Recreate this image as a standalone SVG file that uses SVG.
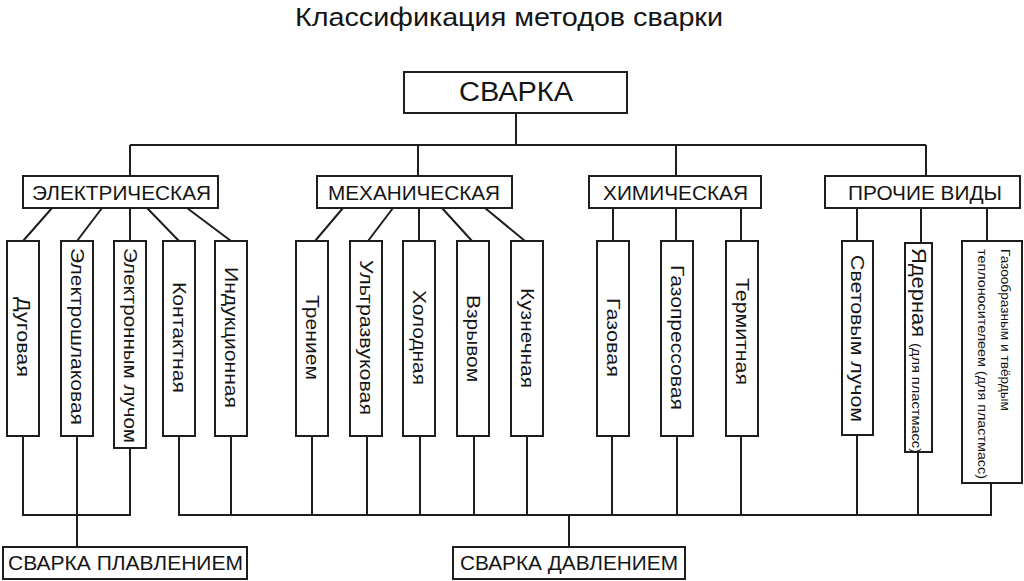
<svg xmlns="http://www.w3.org/2000/svg" width="1024" height="581" viewBox="0 0 1024 581">
<style>
  .bg{fill:#ffffff}
  .box{fill:#ffffff;stroke:#1e1e1e;stroke-width:2}
  .ln{fill:none;stroke:#1e1e1e;stroke-width:2}
  text{font-family:"Liberation Sans",Arial,sans-serif;fill:#151515}
  .title{font-size:26px}
  .root{font-size:27px}
  .cat{font-size:20px}
  .leaf{font-size:19px}
  .big{font-size:20px}
  .small{font-size:13px}
  .tiny{font-size:13px}
  .bottom{font-size:21px}
</style>
<rect class="bg" x="0" y="0" width="1024" height="581"/>
<text class="title" x="509" y="26" text-anchor="middle" textLength="428" lengthAdjust="spacingAndGlyphs">Классификация методов сварки</text>

<g id="connectors">
  <path class="ln" d="M516,113 V145 M130,145 H926 M130,145 V176 M418,145 V176 M676,145 V176 M926,145 V176"/>
  <path class="ln" d="M52,208 L23,241 M102,208 L77,241 M130,208 V241 M147,208 L179,241 M187,208 L231,241"/>
  <path class="ln" d="M343,208 L315,241 M393,208 L368,241 M419,208 V241 M442,208 L472,241 M485,208 L525,241"/>
  <path class="ln" d="M613,208 V241 M676,208 V241 M741,208 V241"/>
  <path class="ln" d="M857,208 V241 M921,208 V243 M987,208 V241"/>
  <path class="ln" d="M23,436 V515 H130 V448 M77,436 V547"/>
  <path class="ln" d="M179,436 V515 H991 V483 M231,436 V515 M312,436 V515 M367,436 V515 M420,436 V515 M474,436 V515 M527,436 V515 M612,436 V515 M677,436 V515 M741,436 V515 M857,435 V515 M918,452 V515 M569,515 V547"/>
</g>

<g id="n-svarka">
  <rect class="box" x="404" y="72" width="223" height="41"/>
  <text class="root" x="516" y="101" text-anchor="middle" textLength="114" lengthAdjust="spacingAndGlyphs">СВАРКА</text>
</g>

<g id="n-electric">
  <rect class="box" x="23" y="176" width="195" height="32"/>
  <text class="cat" x="121.5" y="200" text-anchor="middle" textLength="179" lengthAdjust="spacingAndGlyphs">ЭЛЕКТРИЧЕСКАЯ</text>
</g>
<g id="n-mech">
  <rect class="box" x="317" y="176" width="195" height="32"/>
  <text class="cat" x="414" y="200" text-anchor="middle" textLength="172" lengthAdjust="spacingAndGlyphs">МЕХАНИЧЕСКАЯ</text>
</g>
<g id="n-chem">
  <rect class="box" x="589" y="176" width="172" height="32"/>
  <text class="cat" x="675.5" y="200" text-anchor="middle" textLength="145" lengthAdjust="spacingAndGlyphs">ХИМИЧЕСКАЯ</text>
</g>
<g id="n-other">
  <rect class="box" x="825" y="176" width="195" height="32"/>
  <text class="cat" x="925" y="200" text-anchor="middle" textLength="154" lengthAdjust="spacingAndGlyphs">ПРОЧИЕ ВИДЫ</text>
</g>

<g id="n-dugovaya">
  <rect class="box" x="7" y="241" width="32" height="195"/>
  <text class="leaf" transform="translate(23,337) rotate(90)" text-anchor="middle" dominant-baseline="central" textLength="80" lengthAdjust="spacingAndGlyphs">Дуговая</text>
</g>
<g id="n-elektroshlak">
  <rect class="box" x="61" y="241" width="32" height="195"/>
  <text class="leaf" transform="translate(77,336.5) rotate(90)" text-anchor="middle" dominant-baseline="central" textLength="177" lengthAdjust="spacingAndGlyphs">Электрошлаковая</text>
</g>
<g id="n-eluch">
  <rect class="box" x="114" y="241" width="32" height="207"/>
  <text class="leaf" transform="translate(130,345.5) rotate(90)" text-anchor="middle" dominant-baseline="central" textLength="195" lengthAdjust="spacingAndGlyphs">Электронным лучом</text>
</g>
<g id="n-kontakt">
  <rect class="box" x="163" y="241" width="32" height="195"/>
  <text class="leaf" transform="translate(179,337.5) rotate(90)" text-anchor="middle" dominant-baseline="central" textLength="111" lengthAdjust="spacingAndGlyphs">Контактная</text>
</g>
<g id="n-induk">
  <rect class="box" x="215" y="241" width="32" height="195"/>
  <text class="leaf" transform="translate(231,337.5) rotate(90)" text-anchor="middle" dominant-baseline="central" textLength="141" lengthAdjust="spacingAndGlyphs">Индукционная</text>
</g>

<g id="n-trenie">
  <rect class="box" x="296" y="241" width="32" height="195"/>
  <text class="leaf" transform="translate(312,337.5) rotate(90)" text-anchor="middle" dominant-baseline="central" textLength="85" lengthAdjust="spacingAndGlyphs">Трением</text>
</g>
<g id="n-ultra">
  <rect class="box" x="350" y="241" width="32" height="195"/>
  <text class="leaf" transform="translate(366,337.5) rotate(90)" text-anchor="middle" dominant-baseline="central" textLength="155" lengthAdjust="spacingAndGlyphs">Ультразвуковая</text>
</g>
<g id="n-holod">
  <rect class="box" x="403" y="241" width="32" height="195"/>
  <text class="leaf" transform="translate(419,337.5) rotate(90)" text-anchor="middle" dominant-baseline="central" textLength="95" lengthAdjust="spacingAndGlyphs">Холодная</text>
</g>
<g id="n-vzryv">
  <rect class="box" x="457" y="241" width="32" height="195"/>
  <text class="leaf" transform="translate(473,338.5) rotate(90)" text-anchor="middle" dominant-baseline="central" textLength="87" lengthAdjust="spacingAndGlyphs">Взрывом</text>
</g>
<g id="n-kuzn">
  <rect class="box" x="511" y="241" width="32" height="195"/>
  <text class="leaf" transform="translate(527,338) rotate(90)" text-anchor="middle" dominant-baseline="central" textLength="100" lengthAdjust="spacingAndGlyphs">Кузнечная</text>
</g>

<g id="n-gaz">
  <rect class="box" x="597" y="241" width="32" height="195"/>
  <text class="leaf" transform="translate(613,337.5) rotate(90)" text-anchor="middle" dominant-baseline="central" textLength="79" lengthAdjust="spacingAndGlyphs">Газовая</text>
</g>
<g id="n-gazopress">
  <rect class="box" x="661" y="241" width="32" height="195"/>
  <text class="leaf" transform="translate(677,337.5) rotate(90)" text-anchor="middle" dominant-baseline="central" textLength="145" lengthAdjust="spacingAndGlyphs">Газопрессовая</text>
</g>
<g id="n-termit">
  <rect class="box" x="726" y="241" width="32" height="195"/>
  <text class="leaf" transform="translate(742,331.5) rotate(90)" text-anchor="middle" dominant-baseline="central" textLength="107" lengthAdjust="spacingAndGlyphs">Термитная</text>
</g>

<g id="n-svet">
  <rect class="box" x="842" y="241" width="31" height="194"/>
  <text class="leaf" transform="translate(857.5,338.5) rotate(90)" text-anchor="middle" dominant-baseline="central" textLength="167" lengthAdjust="spacingAndGlyphs">Световым лучом</text>
</g>
<g id="n-yadern">
  <rect class="box" x="905" y="243" width="27" height="209"/>
  <text class="big" transform="translate(912,248) rotate(90)" textLength="89" lengthAdjust="spacingAndGlyphs">Ядерная</text>
  <text class="small" transform="translate(912,343) rotate(90)" textLength="110" lengthAdjust="spacingAndGlyphs">(для пластмасс)</text>
</g>
<g id="n-gazoobr">
  <rect class="box" x="962" y="241" width="60" height="242"/>
  <text class="tiny" transform="translate(1001,249) rotate(90)" textLength="162" lengthAdjust="spacingAndGlyphs">Газообразным и твёрдым</text>
  <text class="tiny" transform="translate(978,249) rotate(90)" textLength="230" lengthAdjust="spacingAndGlyphs">теплоносителеем (для пластмасс)</text>
</g>

<g id="n-plavl">
  <rect class="box" x="3" y="547" width="244" height="32"/>
  <text class="bottom" x="125.5" y="570" text-anchor="middle" textLength="235" lengthAdjust="spacingAndGlyphs">СВАРКА ПЛАВЛЕНИЕМ</text>
</g>
<g id="n-davl">
  <rect class="box" x="453" y="547" width="232" height="32"/>
  <text class="bottom" x="569" y="570" text-anchor="middle" textLength="218" lengthAdjust="spacingAndGlyphs">СВАРКА ДАВЛЕНИЕМ</text>
</g>
</svg>
